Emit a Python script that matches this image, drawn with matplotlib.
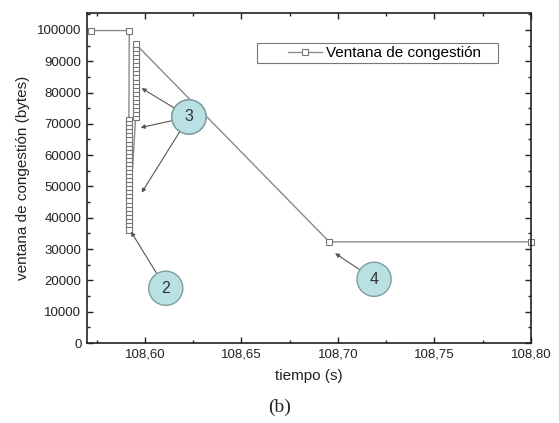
import numpy as np
import matplotlib.pyplot as plt
from matplotlib.patches import Rectangle
from matplotlib.ticker import MultipleLocator, FuncFormatter

plt.rcParams['font.family'] = ['Liberation Sans', 'DejaVu Sans']

# congestion window samples (time in s, window in bytes)
t_start = [108.5719, 108.5919]
w_start = [99800, 99800]

# first column: window falls after the loss
col1_t = 108.5917
col1_w = [71200, 69900, 68600, 67300, 66000, 64700, 63400, 62100, 60800,
          59500, 58200, 56900, 55600, 54300, 53000, 51700, 50400, 49100,
          47800, 46500, 45200, 43900, 42600, 41300, 40000, 38700, 37400,
          36100]

# second column: window inflates during recovery
col2_t = 108.5952
col2_w = [72100, 73400, 74700, 76000, 77300, 78600, 79900, 81200, 82500,
          83800, 85100, 86400, 87700, 89000, 90300, 91600, 92900, 94200,
          95500]

t_end = [108.6955, 108.80]
w_end = [32300, 32300]

time = np.concatenate([t_start, [col1_t] * len(col1_w),
                       [col2_t] * len(col2_w), t_end])
window = np.concatenate([w_start, col1_w, col2_w, w_end])

# numbered callouts: label, circle centre, arrow tip
callouts = [
    ("3", (108.6228, 72200), (108.5983, 81400)),
    ("3", (108.6228, 72200), (108.5978, 68800)),
    ("3", (108.6228, 72200), (108.5983, 48000)),
    ("2", (108.6108, 17480), (108.5928, 35560)),
    ("4", (108.7187, 20350), (108.6985, 28660)),
]

fig = plt.figure(figsize=(5.59, 4.23), dpi=100)
ax = fig.add_axes([87 / 559, 1 - 343 / 423, 444 / 559, 330.3 / 423])

ax.plot(time, window, color='#8a8a8a', lw=1.0, marker='s', markersize=5,
        markerfacecolor='white', markeredgecolor='#777777',
        markeredgewidth=0.8, label='Ventana de congestión', clip_on=False)

for label, centre, tip in callouts:
    ax.annotate(label, xy=tip, xytext=centre, fontsize=11.5, color='#333333',
                ha='center', va='center',
                bbox=dict(boxstyle='circle,pad=0.6', fc='#b9e1e3',
                          ec='#7f9e9e', lw=1.0),
                arrowprops=dict(arrowstyle='-|>', color='#555555', lw=0.8,
                                mutation_scale=6, shrinkA=0, shrinkB=0))

ax.set_xlim(108.57, 108.80)
ax.set_ylim(0, 105500)
ax.xaxis.set_major_locator(MultipleLocator(0.05))
ax.xaxis.set_minor_locator(MultipleLocator(0.025))
ax.yaxis.set_major_locator(MultipleLocator(10000))
ax.yaxis.set_minor_locator(MultipleLocator(5000))
ax.xaxis.set_major_formatter(FuncFormatter(lambda v, p: f"{v:.2f}".replace('.', ',')))
ax.tick_params(which='both', direction='in', top=True, right=True,
               labelsize=9.5, colors='#222222', pad=4)
ax.tick_params(which='major', length=4, width=1)
ax.tick_params(which='minor', length=2, width=1)
for s in ax.spines.values():
    s.set_linewidth(1.2)
    s.set_color('#222222')

ax.set_xlabel('tiempo (s)', fontsize=11, color='#222222', labelpad=6)
ax.set_ylabel('ventana de congestión (bytes)', fontsize=11, color='#222222',
              labelpad=5)

# legend frame drawn separately to match the wide left padding
ax.add_patch(Rectangle((0.383, 0.8477), 0.5427, 0.0603, transform=ax.transAxes,
                       fill=False, ec='#777777', lw=0.8))
ax.legend(loc='center left', bbox_to_anchor=(0.453, 0.878), frameon=False,
          fontsize=11, handlelength=2.2, handletextpad=0.3, borderpad=0,
          borderaxespad=0)

fig.text(280 / 559, 1 - 407 / 423, '(b)', fontsize=14, ha='center',
         va='center', family='Liberation Serif', color='#222222')

fig.savefig('out.png', dpi=100)
